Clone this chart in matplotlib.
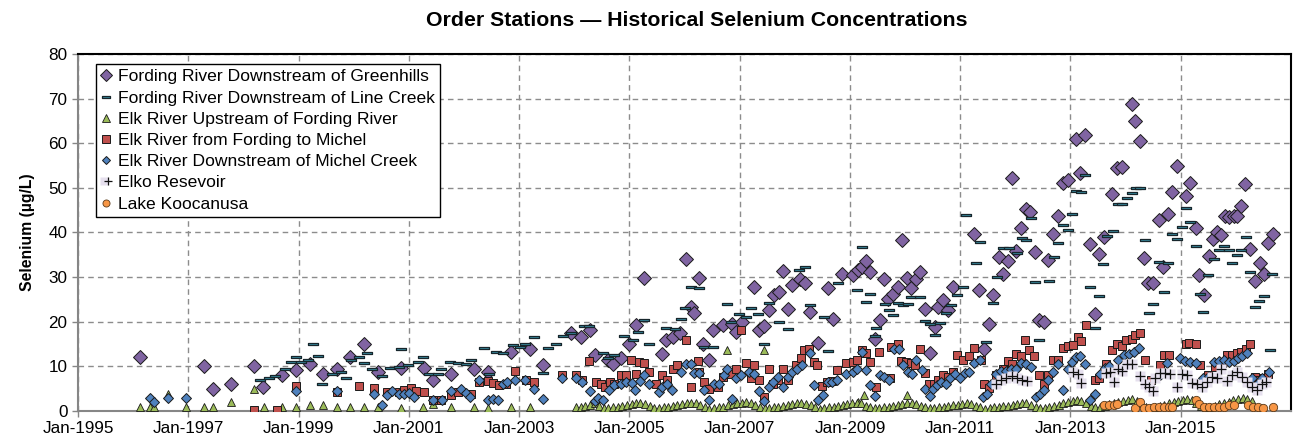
import matplotlib
matplotlib.use("Agg")
import matplotlib.pyplot as plt
import matplotlib.dates as mdates
from matplotlib.path import Path
from matplotlib.legend_handler import HandlerTuple
from datetime import datetime
import pandas as pd

plt.rcParams['font.family'] = ['Liberation Sans', 'DejaVu Sans']

TITLE = "Order Stations \u2014 Historical Selenium Concentrations"
YLABEL = "Selenium (\u00b5g/L)"
LABELS = ["Fording River Downstream of Greenhills",
          "Fording River Downstream of Line Creek",
          "Elk River Upstream of Fording River",
          "Elk River from Fording to Michel",
          "Elk River Downstream of Michel Creek",
          "Elko Resevoir",
          "Lake Koocanusa"]

# (decimal year, µg/L)
GREENHILLS = [
    (1996.13, 12.0), (1997.29, 10.0), (1997.45, 5.0), (1997.78, 6.0), (1998.19, 10.0),
    (1998.36, 5.4), (1998.70, 8.1), (1998.95, 9.1), (1999.20, 10.6), (1999.44, 8.2),
    (1999.69, 9.5), (1999.93, 12.1), (2000.19, 15.0), (2000.44, 8.7), (2000.86, 9.7),
    (2001.28, 9.7), (2001.43, 7.0), (2001.77, 8.4), (2002.19, 9.3), (2002.43, 8.8),
    (2002.85, 13.2), (2003.19, 14.0), (2003.44, 10.3), (2003.94, 17.4), (2004.12, 16.6),
    (2004.28, 18.1), (2004.37, 12.5), (2004.61, 11.4), (2004.70, 10.6), (2004.85, 11.8),
    (2005.00, 15.1), (2005.12, 19.2), (2005.27, 29.8), (2005.60, 12.7), (2005.66, 15.9),
    (2005.79, 16.6), (2005.91, 17.4), (2006.02, 34.0), (2006.12, 23.4), (2006.18, 21.9),
    (2006.27, 29.9), (2006.34, 15.1), (2006.44, 11.4), (2006.51, 18.1), (2006.69, 19.2),
    (2006.87, 19.6), (2006.93, 17.7), (2007.05, 20.0), (2007.27, 27.8), (2007.36, 18.1),
    (2007.44, 19.1), (2007.54, 22.6), (2007.63, 26.0), (2007.72, 26.7), (2007.79, 31.4),
    (2007.87, 22.8), (2007.95, 28.2), (2008.10, 29.5), (2008.19, 28.6), (2008.27, 22.2),
    (2008.43, 15.3), (2008.61, 27.5), (2008.70, 20.7), (2008.85, 30.8), (2009.05, 30.5),
    (2009.15, 31.6), (2009.21, 32.3), (2009.29, 33.7), (2009.37, 31.1), (2009.45, 16.2),
    (2009.54, 20.4), (2009.61, 29.6), (2009.69, 25.0), (2009.78, 26.2), (2009.87, 27.7),
    (2009.95, 38.3), (2010.04, 29.7), (2010.11, 27.6), (2010.20, 29.5), (2010.28, 31.1),
    (2010.37, 22.8), (2010.45, 12.9), (2010.54, 18.9), (2010.60, 23.3), (2010.69, 24.9),
    (2010.78, 22.6), (2010.87, 27.7), (2011.26, 39.6), (2011.35, 27.2), (2011.44, 13.8),
    (2011.53, 19.5), (2011.60, 25.9), (2011.70, 34.6), (2011.78, 30.7), (2011.86, 33.7),
    (2011.94, 52.2), (2012.01, 35.9), (2012.10, 40.9), (2012.19, 45.2), (2012.27, 44.5),
    (2012.36, 35.6), (2012.43, 20.5), (2012.52, 20.0), (2012.60, 33.8), (2012.69, 39.7),
    (2012.78, 43.7), (2012.86, 51.2), (2012.95, 51.8), (2013.10, 60.9), (2013.17, 53.4),
    (2013.27, 61.9), (2013.35, 37.4), (2013.44, 21.7), (2013.52, 35.1), (2013.60, 38.9),
    (2013.76, 48.7), (2013.85, 54.4), (2013.93, 54.6), (2014.11, 68.9), (2014.18, 64.9),
    (2014.26, 60.6), (2014.34, 34.2), (2014.41, 28.7), (2014.49, 28.7), (2014.60, 42.7),
    (2014.68, 32.2), (2014.77, 44.2), (2014.84, 49.0), (2014.93, 54.8), (2015.10, 48.2),
    (2015.17, 51.0), (2015.27, 40.9), (2015.34, 30.5), (2015.43, 26.0), (2015.51, 34.8),
    (2015.58, 38.5), (2015.66, 40.2), (2015.73, 39.4), (2015.81, 43.6), (2015.88, 43.4),
    (2015.96, 43.7), (2016.02, 43.6), (2016.10, 46.0), (2016.17, 50.9), (2016.26, 36.3),
    (2016.34, 29.2), (2016.44, 33.2), (2016.52, 30.6), (2016.59, 37.7), (2016.67, 39.7)]

LINE_CREEK = [
    (1998.30, 7.0), (1998.46, 7.5), (1998.58, 7.8), (1998.75, 9.5), (1998.87, 11.0),
    (1998.95, 12.1), (1999.05, 11.0), (1999.17, 11.5), (1999.26, 15.0), (1999.35, 12.3),
    (1999.43, 6.0), (1999.61, 8.2), (1999.77, 8.8), (1999.86, 7.3), (1999.95, 11.4),
    (2000.10, 12.0), (2000.19, 10.8), (2000.25, 13.0), (2000.34, 9.5), (2000.52, 7.8),
    (2000.66, 9.7), (2000.83, 9.9), (2000.86, 14.0), (2000.98, 10.3), (2001.16, 11.0),
    (2001.26, 12.1), (2001.37, 8.4), (2001.52, 8.4), (2001.59, 9.5), (2001.74, 11.0),
    (2001.89, 10.8), (2002.04, 10.5), (2002.13, 11.5), (2002.37, 14.2), (2002.46, 8.4),
    (2002.58, 13.2), (2002.70, 12.9), (2002.89, 14.7), (2003.01, 14.4), (2003.10, 15.0),
    (2003.28, 16.6), (2003.43, 8.5), (2003.52, 14.2), (2003.67, 15.1), (2003.79, 16.8),
    (2003.94, 17.5), (2004.18, 19.0), (2004.27, 19.1), (2004.52, 13.0), (2004.61, 11.8),
    (2004.73, 12.5), (2004.91, 16.8), (2005.06, 15.9), (2005.15, 17.7), (2005.27, 20.5),
    (2005.36, 15.1), (2005.66, 18.5), (2005.82, 18.3), (2005.94, 20.7), (2006.00, 23.0),
    (2006.12, 27.7), (2006.27, 27.5), (2006.36, 14.4), (2006.51, 14.4), (2006.78, 23.9),
    (2006.84, 20.0), (2006.99, 21.7), (2007.11, 21.1), (2007.21, 23.1), (2007.33, 21.7),
    (2007.45, 15.1), (2007.54, 24.3), (2007.72, 20.0), (2007.87, 18.3), (2008.08, 31.6),
    (2008.19, 32.3), (2008.28, 23.7), (2008.53, 21.1), (2008.60, 13.5), (2008.79, 28.6),
    (2009.12, 27.2), (2009.21, 36.7), (2009.30, 24.5), (2009.36, 26.2), (2009.45, 16.8),
    (2009.48, 18.7), (2009.63, 24.0), (2009.71, 22.6), (2009.78, 21.5), (2009.87, 24.1),
    (2009.96, 23.7), (2010.05, 23.9), (2010.11, 25.6), (2010.27, 25.6), (2010.36, 20.2),
    (2010.45, 19.6), (2010.54, 17.0), (2010.63, 19.8), (2010.75, 22.0), (2010.84, 23.7),
    (2010.94, 26.0), (2011.05, 27.8), (2011.11, 43.9), (2011.28, 33.2), (2011.36, 37.9),
    (2011.47, 15.5), (2011.60, 24.1), (2011.67, 30.1), (2011.77, 36.5), (2011.88, 36.5),
    (2012.04, 35.3), (2012.13, 38.7), (2012.19, 38.3), (2012.28, 43.2), (2012.36, 29.0),
    (2012.43, 16.0), (2012.61, 29.2), (2012.70, 34.4), (2012.78, 37.7), (2012.86, 41.7),
    (2012.95, 40.6), (2013.02, 44.2), (2013.10, 49.4), (2013.19, 49.0), (2013.27, 52.9),
    (2013.35, 27.7), (2013.45, 18.5), (2013.52, 25.7), (2013.59, 32.9), (2013.67, 39.2),
    (2013.77, 40.4), (2013.87, 46.3), (2013.94, 46.3), (2014.03, 47.7), (2014.12, 48.8),
    (2014.19, 49.9), (2014.27, 49.9), (2014.35, 38.3), (2014.42, 22.0), (2014.49, 24.0),
    (2014.60, 33.5), (2014.69, 26.7), (2014.77, 33.1), (2014.84, 39.7), (2014.93, 38.6),
    (2015.02, 41.2), (2015.10, 45.4), (2015.17, 42.4), (2015.27, 37.0), (2015.36, 26.2),
    (2015.40, 22.2), (2015.49, 30.5), (2015.60, 34.0), (2015.69, 36.1), (2015.78, 37.0),
    (2015.87, 36.1), (2015.93, 33.1), (2016.02, 35.0), (2016.10, 36.1), (2016.18, 38.9),
    (2016.26, 31.2), (2016.34, 23.2), (2016.42, 24.6), (2016.52, 25.7), (2016.62, 13.6),
    (2016.66, 30.6)]

# Elk River upstream: early sparse samples and isolated high readings
ELK_UP_SPARSE = [
    (1996.13, 0.9), (1996.30, 0.9), (1996.37, 0.9), (1996.63, 3.9), (1996.96, 0.9),
    (1997.28, 0.9), (1997.45, 0.9), (1997.78, 2.0), (1998.19, 5.0), (1998.37, 0.9),
    (1998.70, 0.9), (1998.95, 0.8), (1999.20, 1.3), (1999.44, 1.4), (1999.69, 0.8),
    (1999.93, 1.0), (2000.19, 1.0), (2000.44, 0.8), (2000.86, 0.6), (2001.26, 0.8),
    (2001.43, 1.6), (2001.77, 0.9), (2002.19, 0.9), (2002.43, 0.6), (2002.85, 0.8),
    (2003.19, 0.8), (2006.78, 13.6), (2007.45, 13.6), (2009.15, 2.0), (2009.25, 3.5),
    (2010.04, 3.5)]
# Elk River upstream: monthly samples starting Jan-2004
ELK_UP_MONTHLY_START = "2004-01"
ELK_UP_MONTHLY = [
    0.8, 0.9, 1.1, 1.4, 1.8, 1.1, 0.6, 0.7, 0.9, 1.0, 1.2, 1.3,
    1.5, 1.7, 1.9, 1.6, 1.1, 0.6, 0.7, 0.9, 1.0, 1.2, 1.4, 1.6,
    1.8, 1.9, 1.7, 1.3, 0.8, 0.5, 0.7, 0.8, 1.0, 1.3, 1.5, 1.7,
    1.9, 2.0, 1.8, 1.4, 0.9, 0.6, 0.6, 0.8, 1.0, 1.1, 1.3, 1.5,
    1.7, 1.8, 1.6, 1.3, 0.8, 0.5, 0.6, 0.8, 1.0, 1.2, 1.4, 1.6,
    1.8, 1.9, 1.7, 1.2, 0.8, 0.6, 0.7, 0.9, 1.0, 1.2, 1.3, 1.5,
    1.7, 1.8, 1.6, 1.2, 0.8, 0.6, 0.7, 0.8, 1.0, 1.1, 1.3, 1.4,
    1.6, 1.7, 1.5, 1.2, 0.8, 0.5, 0.6, 0.8, 0.9, 1.1, 1.2, 1.4,
    1.6, 1.8, 1.7, 1.4, 0.9, 0.6, 0.7, 0.9, 1.1, 1.4, 1.7, 2.0,
    2.2, 2.4, 2.3, 1.8, 1.2, 0.8, 0.9, 1.2, 1.5, 1.8, 2.1, 2.3,
    2.5, 2.6, 2.3, 1.7, 1.0, 0.7, 0.9, 1.1, 1.4, 1.7, 2.0, 2.3,
    2.5, 2.7, 2.5, 1.9, 1.2, 0.8, 0.9, 1.2, 1.5, 1.8, 2.1, 2.4,
    2.7, 2.9, 2.7, 2.2]

FORDING_TO_MICHEL = [
    (1998.19, 0.2), (1998.61, 0.2), (1998.95, 5.5), (1999.69, 4.3), (2000.10, 5.5),
    (2000.36, 5.2), (2000.60, 4.3), (2000.83, 4.3), (2000.92, 4.6), (2001.04, 5.2),
    (2001.13, 4.5), (2001.28, 4.3), (2001.43, 2.4), (2001.58, 2.4), (2001.77, 3.5),
    (2001.89, 4.3), (2002.13, 3.9), (2002.28, 6.5), (2002.43, 6.7), (2002.52, 6.3),
    (2002.64, 5.8), (2002.76, 6.1), (2002.93, 9.0), (2003.13, 6.9), (2003.28, 6.5),
    (2003.78, 8.0), (2004.03, 8.0), (2004.14, 6.9), (2004.27, 11.2), (2004.40, 6.5),
    (2004.49, 6.1), (2004.55, 5.4), (2004.64, 6.5), (2004.73, 6.1), (2004.85, 8.0),
    (2004.94, 8.0), (2005.03, 11.5), (2005.12, 8.2), (2005.18, 11.0), (2005.27, 10.8),
    (2005.36, 8.8), (2005.48, 6.1), (2005.60, 8.0), (2005.69, 7.0), (2005.79, 9.5),
    (2005.86, 10.3), (2006.03, 15.9), (2006.12, 5.4), (2006.24, 11.2), (2006.27, 8.8),
    (2006.36, 6.5), (2006.45, 5.0), (2006.60, 5.4), (2006.69, 7.6), (2006.84, 8.4),
    (2006.93, 9.5), (2007.02, 18.1), (2007.11, 10.8), (2007.21, 7.3), (2007.27, 10.3),
    (2007.36, 7.0), (2007.45, 3.1), (2007.53, 9.5), (2007.60, 6.1), (2007.69, 6.9),
    (2007.78, 9.5), (2007.87, 7.0), (2008.02, 10.3), (2008.11, 11.8), (2008.17, 13.6),
    (2008.26, 14.0), (2008.35, 11.0), (2008.41, 10.3), (2008.50, 5.5), (2008.58, 6.5),
    (2008.67, 6.7), (2008.76, 9.1), (2008.93, 10.8), (2009.06, 11.0), (2009.13, 11.5),
    (2009.21, 13.6), (2009.29, 12.9), (2009.37, 11.0), (2009.47, 5.4), (2009.53, 13.2),
    (2009.72, 7.5), (2009.75, 14.4), (2009.87, 15.0), (2009.93, 11.2), (2010.02, 11.0),
    (2010.11, 10.8), (2010.19, 10.3), (2010.27, 13.8), (2010.36, 8.5), (2010.43, 6.0),
    (2010.52, 6.1), (2010.60, 6.9), (2010.69, 8.0), (2010.78, 7.7), (2010.87, 8.8),
    (2010.94, 12.5), (2011.05, 11.4), (2011.16, 12.3), (2011.26, 14.2), (2011.38, 11.4),
    (2011.44, 6.0), (2011.52, 5.2), (2011.65, 8.0), (2011.77, 9.5), (2011.86, 11.2),
    (2011.94, 10.6), (2012.01, 12.7), (2012.10, 12.3), (2012.18, 16.0), (2012.25, 13.6),
    (2012.34, 12.3), (2012.43, 8.0), (2012.52, 6.1), (2012.60, 8.0), (2012.69, 11.5),
    (2012.77, 11.4), (2012.86, 14.2), (2012.95, 14.5), (2013.04, 14.7), (2013.13, 16.5),
    (2013.19, 15.7), (2013.28, 19.2), (2013.45, 6.9), (2013.52, 7.3), (2013.64, 10.6),
    (2013.76, 13.6), (2013.85, 15.0), (2013.93, 14.5), (2014.01, 15.9), (2014.11, 16.2),
    (2014.18, 17.0), (2014.27, 17.4), (2014.35, 11.5), (2014.47, 6.9), (2014.63, 10.3),
    (2014.69, 12.5), (2014.78, 12.5), (2015.10, 15.0), (2015.16, 15.3), (2015.27, 15.1),
    (2015.36, 10.3), (2015.49, 8.0), (2015.63, 9.9), (2015.75, 10.8), (2015.84, 12.5),
    (2015.93, 12.5), (2016.02, 12.9), (2016.10, 13.2), (2016.18, 14.0), (2016.26, 15.0),
    (2016.34, 7.7), (2016.41, 6.9), (2016.50, 7.3), (2016.59, 8.2)]

DOWNSTREAM_MICHEL = [
    (1996.30, 3.0), (1996.37, 2.0), (1996.63, 3.0), (1996.96, 3.0), (1998.95, 4.5),
    (1999.69, 4.5), (2000.36, 3.9), (2000.52, 1.3), (2000.60, 3.5), (2000.69, 4.5),
    (2000.83, 3.7), (2000.91, 3.7), (2001.01, 4.0), (2001.10, 3.1), (2001.43, 2.4),
    (2001.60, 2.4), (2001.77, 4.5), (2001.95, 5.0), (2002.04, 4.0), (2002.11, 3.1),
    (2002.28, 6.9), (2002.43, 2.4), (2002.52, 2.8), (2002.61, 2.4), (2002.70, 6.1),
    (2002.78, 6.5), (2002.93, 7.0), (2003.11, 7.0), (2003.28, 5.0), (2003.44, 2.8),
    (2003.78, 7.3), (2004.03, 7.3), (2004.14, 6.5), (2004.28, 4.5), (2004.37, 2.2),
    (2004.44, 3.0), (2004.53, 2.5), (2004.63, 4.6), (2004.73, 5.8), (2004.85, 6.1),
    (2004.94, 6.5), (2005.04, 6.3), (2005.11, 4.6), (2005.19, 6.7), (2005.27, 8.0),
    (2005.36, 6.0), (2005.53, 4.3), (2005.60, 5.4), (2005.69, 6.1), (2005.77, 4.6),
    (2005.94, 8.8), (2006.03, 10.6), (2006.12, 10.6), (2006.18, 8.5), (2006.27, 8.5),
    (2006.36, 4.6), (2006.44, 2.5), (2006.54, 6.1), (2006.63, 6.1), (2006.72, 8.0),
    (2006.78, 9.3), (2006.86, 2.8), (2006.93, 7.3), (2007.02, 8.0), (2007.17, 8.8),
    (2007.27, 8.4), (2007.36, 4.5), (2007.45, 2.2), (2007.54, 5.4), (2007.61, 6.5),
    (2007.69, 7.6), (2007.78, 5.4), (2007.87, 7.6), (2007.96, 8.8), (2008.05, 9.5),
    (2008.13, 10.3), (2008.27, 12.9), (2008.35, 5.8), (2008.43, 2.4), (2008.52, 3.5),
    (2008.60, 6.5), (2008.68, 6.5), (2008.76, 6.9), (2008.93, 8.4), (2009.05, 8.8),
    (2009.12, 9.5), (2009.21, 13.2), (2009.29, 9.1), (2009.37, 5.8), (2009.45, 3.3),
    (2009.54, 8.0), (2009.61, 7.6), (2009.71, 6.9), (2009.80, 14.0), (2009.89, 14.0),
    (2009.96, 10.3), (2010.05, 8.8), (2010.13, 8.2), (2010.20, 11.4), (2010.30, 9.1),
    (2010.37, 5.0), (2010.45, 3.3), (2010.51, 5.0), (2010.58, 5.8), (2010.66, 6.5),
    (2010.75, 6.1), (2010.82, 7.3), (2010.90, 8.4), (2010.99, 7.5), (2011.08, 8.5),
    (2011.17, 8.8), (2011.26, 10.8), (2011.36, 11.4), (2011.41, 3.1), (2011.48, 3.7),
    (2011.56, 6.1), (2011.65, 8.4), (2011.74, 8.9), (2011.83, 9.0), (2011.92, 9.5),
    (2012.01, 9.5), (2012.10, 10.8), (2012.19, 10.6), (2012.28, 9.9), (2012.37, 3.1),
    (2012.45, 3.7), (2012.52, 4.6), (2012.60, 7.0), (2012.69, 8.8), (2012.77, 10.6),
    (2012.86, 4.8), (2012.95, 9.5), (2013.02, 11.0), (2013.10, 12.1), (2013.17, 12.3),
    (2013.27, 10.6), (2013.35, 2.4), (2013.44, 3.9), (2013.53, 8.2), (2013.63, 9.7),
    (2013.70, 10.0), (2013.87, 11.4), (2013.97, 12.5), (2014.06, 12.7), (2014.15, 13.2),
    (2014.25, 14.2), (2014.45, 5.4), (2014.63, 8.0), (2014.75, 10.8), (2014.99, 11.8),
    (2015.08, 11.2), (2015.17, 11.0), (2015.27, 10.8), (2015.40, 7.3), (2015.51, 7.8),
    (2015.60, 11.0), (2015.69, 11.2), (2015.78, 11.5), (2015.87, 11.0), (2015.96, 11.2),
    (2016.04, 11.8), (2016.12, 12.3), (2016.20, 12.9), (2016.29, 7.3), (2016.38, 6.1),
    (2016.47, 7.3), (2016.60, 8.8)]

ELKO = [
    (2011.65, 6.1), (2011.74, 6.9), (2011.83, 7.3), (2011.95, 7.8), (2012.04, 7.3),
    (2012.13, 6.9), (2012.22, 6.7), (2013.04, 8.8), (2013.13, 8.4), (2013.19, 6.3),
    (2013.64, 8.5), (2013.71, 8.8), (2013.79, 6.5), (2013.87, 9.3), (2013.94, 9.0),
    (2014.03, 10.6), (2014.11, 10.6), (2014.27, 7.8), (2014.35, 6.1), (2014.42, 5.4),
    (2014.49, 4.5), (2014.54, 7.3), (2014.63, 8.5), (2014.72, 8.5), (2014.80, 8.4),
    (2014.93, 5.4), (2015.02, 8.4), (2015.11, 8.0), (2015.20, 6.3), (2015.30, 6.1),
    (2015.39, 5.4), (2015.48, 6.5), (2015.57, 7.6), (2015.66, 7.3), (2015.73, 9.3),
    (2015.84, 6.7), (2015.93, 8.0), (2016.02, 8.8), (2016.11, 7.6), (2016.20, 6.5),
    (2016.29, 5.4), (2016.38, 4.8), (2016.47, 6.1), (2016.54, 6.5)]

KOOCANUSA = [
    (2013.61, 1.3), (2013.70, 1.3), (2013.79, 1.3), (2013.85, 1.5), (2014.18, 0.7),
    (2014.27, 2.0), (2014.33, 0.7), (2014.42, 0.7), (2014.51, 0.8), (2014.60, 0.8),
    (2014.69, 0.8), (2014.78, 0.8), (2014.84, 1.0), (2015.27, 2.4), (2015.34, 1.6),
    (2015.42, 0.8), (2015.51, 0.8), (2015.60, 0.8), (2015.69, 1.0), (2015.78, 1.0),
    (2015.87, 1.3), (2015.96, 1.3), (2016.23, 1.3), (2016.32, 0.9), (2016.41, 0.9),
    (2016.50, 0.6), (2016.68, 1.0)]

X_TICK_YEARS = list(range(1995, 2017, 2))
Y_TICKS = list(range(0, 81, 10))


def dec2date(y):
    yr = int(y)
    start = datetime(yr, 1, 1)
    return start + (datetime(yr + 1, 1, 1) - start) * (y - yr)


def split(pairs):
    return [dec2date(p[0]) for p in pairs], [p[1] for p in pairs]


fig = plt.figure(figsize=(12.95, 4.40), dpi=100)
ax = fig.add_axes([78 / 1295, 1 - 411 / 440, 1213 / 1295, 357 / 440])

EDGE = '#1a1a1a'

x, y = split(GREENHILLS)
h1, = ax.plot(x, y, ls='none', marker='D', ms=6.8, mfc='#8064A2', mec=EDGE, mew=0.7, zorder=3)

dash = Path([(-1, -0.2), (1, -0.2), (1, 0.2), (-1, 0.2), (-1, -0.2)],
            [Path.MOVETO, Path.LINETO, Path.LINETO, Path.LINETO, Path.CLOSEPOLY])
x, y = split(LINE_CREEK)
h2, = ax.plot(x, y, ls='none', marker=dash, ms=7.2, mfc='#3a8fa3', mec='#17262c', mew=0.9, zorder=4)

xs, ys = split(ELK_UP_SPARSE)
xm = list(pd.date_range(ELK_UP_MONTHLY_START, periods=len(ELK_UP_MONTHLY), freq='MS')
          + pd.Timedelta(days=14))
h3, = ax.plot(xs + xm, ys + ELK_UP_MONTHLY, ls='none', marker='^', ms=6.2,
              mfc='#9BBB59', mec=EDGE, mew=0.6, zorder=5)

x, y = split(FORDING_TO_MICHEL)
h4, = ax.plot(x, y, ls='none', marker='s', ms=6.4, mfc='#C0504D', mec=EDGE, mew=0.7, zorder=6)

x, y = split(DOWNSTREAM_MICHEL)
h5, = ax.plot(x, y, ls='none', marker='D', ms=4.9, mfc='#4F81BD', mec=EDGE, mew=0.7, zorder=7)

x, y = split(ELKO)
h6a, = ax.plot(x, y, ls='none', marker='s', ms=7.0, mfc='#E6E0EE', mec='none', zorder=8)
h6b, = ax.plot(x, y, ls='none', marker='+', ms=6.5, mec='#111111', mew=0.9, zorder=8.5)

x, y = split(KOOCANUSA)
h7, = ax.plot(x, y, ls='none', marker='o', ms=6.0, mfc='#F79646', mec='#5a3a1a', mew=0.6, zorder=9)

ax.set_xlim(dec2date(1995.0), dec2date(2017.0))
ax.set_ylim(0, 80)
ax.set_yticks(Y_TICKS)
ax.set_xticks([datetime(yr, 1, 1) for yr in X_TICK_YEARS])
ax.xaxis.set_major_formatter(mdates.DateFormatter('Jan-%Y'))
ax.tick_params(axis='both', labelsize=12.3, colors='#000000', length=4, width=1, direction='out')
ax.tick_params(axis='both', color='#868686')
ax.tick_params(axis='x', pad=3)
ax.grid(True, color='#8c8c8c', ls=(0, (4, 3)), lw=1.0)
ax.set_axisbelow(True)
for s in ['left', 'bottom']:
    ax.spines[s].set_color('#868686')
    ax.spines[s].set_linewidth(1.5)
for s in ['top', 'right']:
    ax.spines[s].set_color('#000000')
    ax.spines[s].set_linewidth(1.5)

ax.set_ylabel(YLABEL, fontsize=11.3, fontweight='bold', labelpad=10)
fig.text(697 / 1295, 1 - 20 / 440, TITLE, ha='center', va='center', fontsize=15.3, fontweight='bold')

leg = ax.legend([h1, h2, h3, h4, h5, (h6a, h6b), h7], LABELS,
                handler_map={tuple: HandlerTuple(ndivide=None, pad=0)},
                loc='upper left', bbox_to_anchor=(18 / 1213, 1 - 10 / 357),
                borderaxespad=0, fontsize=12.6, handlelength=0.55, handletextpad=0.4,
                labelspacing=0.34, borderpad=0.3, fancybox=False, framealpha=1,
                edgecolor='#000000', markerscale=0.85)
leg.get_frame().set_linewidth(1.0)
leg.set_zorder(20)

fig.savefig('out.png', dpi=100)
